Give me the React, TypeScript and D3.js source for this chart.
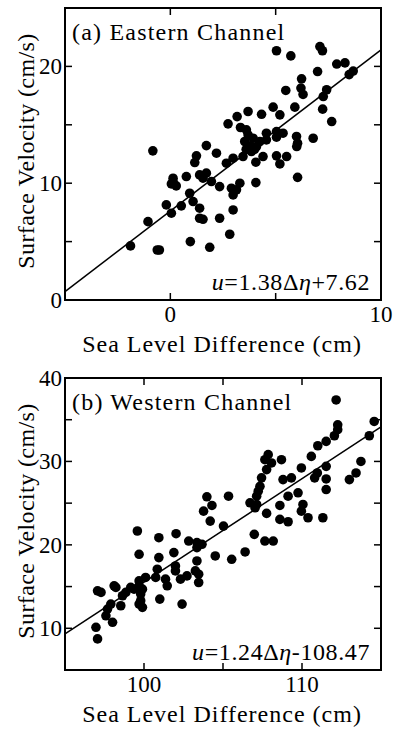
import React from "react";
import * as d3 from "d3";

// Panel (a) Eastern Channel: [sea level difference (cm), surface velocity (cm/s)]
const eastX = [-1.89,-1.06,-0.83,-0.62,-0.52,-0.19,0.05,0.05,0.13,0.13,0.28,0.52,0.76,0.92,1.08,0.95,1.16,1.24,1.39,1.55,1.71,1.71,1.95,1.39,1.39,1.55,1.87,2.19,2.34,2.34,2.66,2.74,2.82,2.9,2.98,2.98,2.98,3.14,3.17,3.3,3.33,3.45,3.53,3.61,3.69,3.69,3.85,3.93,4.06,4.06,4.09,4.25,4.33,4.4,4.56,4.56,4.88,5.04,5.04,5.04,5.04,5.2,5.2,5.35,5.48,5.52,5.72,5.91,5.99,6.0,6.04,6.04,6.2,6.23,6.3,6.78,6.99,7.1,7.22,7.23,7.26,7.42,7.66,7.9,8.29,8.49,8.68,3.8,4.0,3.6];
const eastY = [4.63,6.71,12.77,4.28,4.28,8.14,7.43,9.94,10.14,10.43,9.77,8.06,10.57,9.14,8.43,5.0,11.77,12.34,10.71,10.43,10.86,13.22,10.14,7.86,7.0,6.91,4.51,12.57,9.71,7.0,11.71,15.08,5.63,9.57,12.14,9.0,7.71,9.43,15.7,10.0,14.77,12.28,13.57,14.57,16.14,14.14,12.71,13.85,11.8,10.05,13.14,13.57,15.9,12.28,13.71,14.28,16.51,21.34,14.42,13.94,12.34,15.85,11.65,14.28,17.94,12.28,20.9,16.51,14.0,13.14,13.43,10.5,18.14,18.94,17.6,13.85,19.56,21.7,21.34,16.34,17.42,18.0,15.28,20.2,20.3,19.3,19.6,13.2,12.9,12.9];

// Panel (b) Western Channel
const westX = [112.16,112.26,112.26,112.05,111.53,111.0,114.57,114.26,113.73,113.42,113.0,110.59,109.96,110.97,110.8,111.53,111.53,111.53,111.32,109.33,109.75,110.06,109.96,110.38,108.7,108.8,109.12,108.6,108.6,109.12,107.86,107.65,108.07,107.76,107.44,107.34,107.23,107.13,106.71,107.13,107.03,107.76,106.98,107.65,108.18,105.35,103.98,104.3,103.77,104.19,105.03,99.58,100.94,102.03,102.83,103.35,103.67,103.35,99.69,100.94,101.89,104.51,105.55,106.4,103.35,103.25,103.46,103.46,102.72,101.99,101.99,100.84,100.74,101.36,101.47,102.31,101.0,102.41,99.69,100.1,99.69,99.9,99.37,99.79,99.79,99.9,99.69,98.85,98.22,98.11,98.64,97.9,98.53,97.69,97.06,97.28,97.59,98.01,96.96,97.06,99.16];
const westY = [37.37,34.39,33.8,33.08,32.4,31.88,34.79,33.08,30.0,28.62,27.82,30.6,29.22,28.62,28.03,29.41,27.9,26.63,23.25,28.03,26.24,24.84,24.04,23.25,30.21,27.82,25.83,24.72,23.05,22.77,30.81,30.21,29.82,29.02,28.03,27.02,26.43,25.83,25.04,24.84,24.45,23.77,21.26,20.46,20.46,25.83,25.76,24.72,24.04,22.85,22.25,21.66,20.86,21.34,20.46,20.27,20.07,19.67,18.87,18.47,19.07,18.67,18.27,19.15,18.07,16.88,16.48,15.49,16.28,17.47,16.88,17.08,16.09,15.89,15.09,15.89,13.5,12.9,15.68,16.09,15.09,14.69,14.69,14.1,13.3,12.51,12.9,14.3,14.9,15.09,13.9,12.9,12.7,12.3,14.49,14.3,11.5,10.72,10.12,8.73,14.9];

const eastXTicks = [-5, 0, 5, 10];
const eastXLabels = [0, 10];
const eastYTicks = [0, 5, 10, 15, 20, 25];
const eastYLabels = [0, 10, 20];
const westXTicks = [95, 100, 105, 110, 115];
const westXLabels = [100, 110];
const westYTicks = [5, 10, 15, 20, 25, 30, 35, 40];
const westYLabels = [10, 20, 30, 40];

const eastFit = { slope: 1.38, intercept: 7.62 };
const westFit = { slope: 1.24, intercept: -108.47 };

const FONT = "'Liberation Serif', 'Times New Roman', serif";

type PanelProps = {
  top: number;
  xs: number[];
  ys: number[];
  xDomain: [number, number];
  yDomain: [number, number];
  xTicks: number[];
  xLabels: number[];
  yTicks: number[];
  yLabels: number[];
  fit: { slope: number; intercept: number };
  title: string;
  eq: React.ReactNode;
};

function Panel(p: PanelProps) {
  const left = 65, right = 381, h = 292;
  const x = d3.scaleLinear().domain(p.xDomain).range([left, right]);
  const y = d3.scaleLinear().domain(p.yDomain).range([p.top + h, p.top]);
  const bottom = p.top + h;
  const tl = 7;
  const line = d3.line<number>().x((v) => x(v)).y((v) => y(p.fit.slope * v + p.fit.intercept));
  const pts = d3.range(p.xs.length);
  return (
    <g fontFamily={FONT} fill="#000">
      {pts.map((i) => (
        <circle key={i} cx={x(p.xs[i])} cy={y(p.ys[i])} r={4.8} fill="#000" />
      ))}
      <path d={line(p.xDomain) || ""} stroke="#000" strokeWidth={1.5} fill="none" />
      <rect x={left} y={p.top} width={right - left} height={h} fill="none" stroke="#000" strokeWidth={2} />
      {p.xTicks.map((t) => (
        <g key={"xt" + t}>
          <line x1={x(t)} x2={x(t)} y1={bottom} y2={bottom - tl} stroke="#000" strokeWidth={1.5} />
          <line x1={x(t)} x2={x(t)} y1={p.top} y2={p.top + tl} stroke="#000" strokeWidth={1.5} />
        </g>
      ))}
      {p.yTicks.map((t) => (
        <g key={"yt" + t}>
          <line x1={left} x2={left + tl} y1={y(t)} y2={y(t)} stroke="#000" strokeWidth={1.5} />
          <line x1={right} x2={right - tl} y1={y(t)} y2={y(t)} stroke="#000" strokeWidth={1.5} />
        </g>
      ))}
      {p.xLabels.map((t) => (
        <text key={"xl" + t} x={x(t)} y={bottom + 22} textAnchor="middle" fontSize={23}>
          {t}
        </text>
      ))}
      {p.yLabels.map((t) => (
        <text key={"yl" + t} x={left - 3} y={y(t) + 8} textAnchor="end" fontSize={23}>
          {t}
        </text>
      ))}
      <text x={72} y={p.top + 32} fontSize={24} letterSpacing={1.2}>
        {p.title}
      </text>
      <text x={370} y={bottom - 10} textAnchor="end" fontSize={24} letterSpacing={0.6}>
        {p.eq}
      </text>
      <text x={222} y={bottom + 52} textAnchor="middle" fontSize={24} letterSpacing={1}>
        Sea Level Difference (cm)
      </text>
      <text
        transform={`translate(34,${p.top + h / 2 - 3}) rotate(-90)`}
        textAnchor="middle"
        fontSize={24}
        letterSpacing={0.4}
      >
        Surface Velocity (cm/s)
      </text>
    </g>
  );
}

export default function App() {
  return (
    <div style={{ position: "absolute", left: 0, top: 0 }}>
      <svg width={393} height={729} style={{ display: "block", background: "#fff" }}>
        <Panel
          top={8}
          xs={eastX}
          ys={eastY}
          xDomain={[-5, 10]}
          yDomain={[0, 25]}
          xTicks={eastXTicks}
          xLabels={eastXLabels}
          yTicks={eastYTicks}
          yLabels={eastYLabels}
          fit={eastFit}
          title="(a) Eastern Channel"
          eq={
            <>
              <tspan fontStyle="italic">u</tspan>=1.38Δ<tspan fontStyle="italic">η</tspan>+7.62
            </>
          }
        />
        <Panel
          top={378}
          xs={westX}
          ys={westY}
          xDomain={[95, 115]}
          yDomain={[5, 40]}
          xTicks={westXTicks}
          xLabels={westXLabels}
          yTicks={westYTicks}
          yLabels={westYLabels}
          fit={westFit}
          title="(b) Western Channel"
          eq={
            <>
              <tspan fontStyle="italic">u</tspan>=1.24Δ<tspan fontStyle="italic">η</tspan>-108.47
            </>
          }
        />
      </svg>
    </div>
  );
}
